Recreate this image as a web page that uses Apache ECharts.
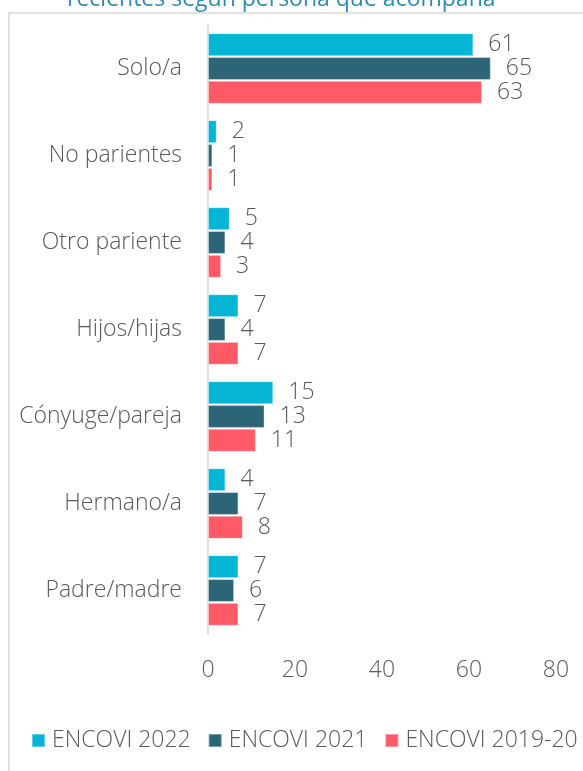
<!DOCTYPE html>
<html>
<head>
<meta charset="utf-8">
<script src="https://cdn.jsdelivr.net/npm/echarts@6/dist/echarts.min.js"></script>
<style>
    html, body { margin: 0; padding: 0; background: #fff; }
    #chart { width: 583px; height: 771px; }
</style>
</head>
<body>
<div id="chart"></div>
<script>
// categorias, de arriba hacia abajo
const categories = ['Solo/a', 'No parientes', 'Otro pariente', 'Hijos/hijas', 'Cónyuge/pareja', 'Hermano/a', 'Padre/madre']
const seriesNames = ['ENCOVI 2022', 'ENCOVI 2021', 'ENCOVI 2019-20']
const encovi2022 = [61, 2, 5, 7, 15, 4, 7]
const encovi2021 = [65, 1, 4, 4, 13, 7, 6]
const encovi2019 = [63, 1, 3, 7, 11, 8, 7]
const xTicks = [0, 20, 40, 60, 80]
const titleText = 'recientes según persona que acompaña'

const colors = ['#05b5d5', '#2c6676', '#ff5a66']
const fontFamily = 'Open Sans, Noto Sans, sans-serif'
const textColor = '#595959'
const fontSize = 23

const myChart = echarts.init(document.getElementById('chart'))

const makeSeries = (name, data, i) => ({
    name,
    type: 'bar',
    data,
    barGap: '4%',
    barCategoryGap: '19%',
    itemStyle: {
        color: colors[i],
        borderColor: 'rgba(255,255,255,0.35)',
        borderWidth: 1
    },
    label: {
        show: true,
        position: 'right',
        distance: 15,
        color: textColor,
        fontSize,
        fontWeight: 300,
        fontFamily
    }
})

myChart.setOption({
    animation: false,
    title: {
        text: titleText,
        left: 62,
        top: -17,
        textStyle: {
            color: '#2e8bb0',
            fontSize: 23,
            fontWeight: 'normal',
            fontFamily
        }
    },
    graphic: [
        {
            type: 'rect',
            shape: { x: 9, y: 13, width: 620, height: 800 },
            style: { fill: 'none', stroke: '#d9d9d9', lineWidth: 1.5 },
            silent: true,
            z: -1
        }
    ],
    legend: {
        data: seriesNames,
        bottom: 14,
        left: 26,
        itemWidth: 13,
        itemHeight: 13,
        itemGap: 17,
        icon: 'rect',
        textStyle: {
            color: textColor,
            fontSize,
            fontWeight: 300,
            fontFamily,
            padding: [0, 0, 0, 2]
        }
    },
    grid: {
        left: 208,
        right: 27,
        top: 25,
        bottom: 137,
        containLabel: false
    },
    xAxis: {
        type: 'value',
        min: xTicks[0],
        max: xTicks[xTicks.length - 1],
        interval: 20,
        axisLine: { show: false },
        axisTick: { show: false },
        splitLine: { show: false },
        axisLabel: {
            margin: 25,
            color: textColor,
            fontSize,
            fontWeight: 300,
            fontFamily
        }
    },
    yAxis: {
        type: 'category',
        data: categories,
        inverse: true,
        axisLine: { show: true, lineStyle: { color: '#d9d9d9', width: 1.5 } },
        axisTick: { show: false },
        axisLabel: {
            margin: 26,
            color: textColor,
            fontSize,
            fontWeight: 300,
            fontFamily
        }
    },
    series: [
        makeSeries(seriesNames[0], encovi2022, 0),
        makeSeries(seriesNames[1], encovi2021, 1),
        makeSeries(seriesNames[2], encovi2019, 2)
    ]
})
</script>
</body>
</html>
